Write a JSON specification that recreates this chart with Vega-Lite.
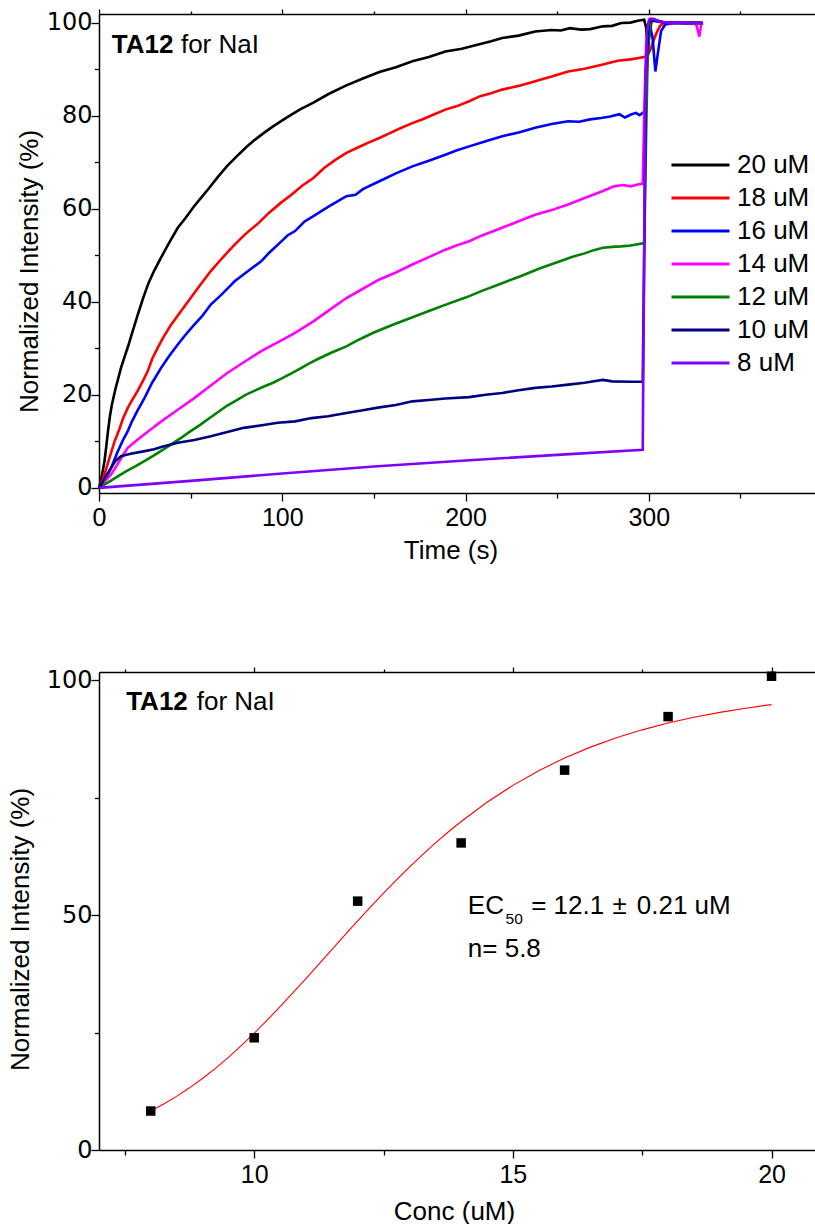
{
  "$schema": "https://vega.github.io/schema/vega-lite/v6.json",
  "background": "white",
  "padding": {"left": 7, "top": 8, "right": 0, "bottom": 0},
  "config": {
    "font": "Liberation Sans",
    "view": {"stroke": null},
    "axis": {"grid": false, "domainColor": "black", "domainWidth": 1.5, "tickColor": "black", "tickWidth": 1.3, "labelColor": "black", "titleColor": "black", "labelFont": "Liberation Sans", "titleFont": "Liberation Sans", "labelFontSize": 25, "titleFontSize": 26, "titleFontWeight": "normal", "labelFlush": false, "labelOverlap": false}
  },
  "datasets": {
    "kinetics": [
      {"s":"20 uM","t":0,"v":0},{"s":"20 uM","t":1,"v":1.5},{"s":"20 uM","t":2,"v":3.5},{"s":"20 uM","t":3,"v":5.8},{"s":"20 uM","t":4,"v":9},{"s":"20 uM","t":5,"v":12.5},{"s":"20 uM","t":6,"v":15.5},{"s":"20 uM","t":7,"v":17.8},{"s":"20 uM","t":8,"v":19.6},{"s":"20 uM","t":9,"v":21.3},{"s":"20 uM","t":10,"v":22.8},{"s":"20 uM","t":12,"v":25.8},{"s":"20 uM","t":14,"v":28.2},{"s":"20 uM","t":16,"v":30.6},{"s":"20 uM","t":18,"v":33.2},{"s":"20 uM","t":21,"v":37},{"s":"20 uM","t":24,"v":40.7},{"s":"20 uM","t":27,"v":44},{"s":"20 uM","t":30,"v":46.6},{"s":"20 uM","t":34,"v":49.6},{"s":"20 uM","t":38,"v":52.5},{"s":"20 uM","t":43,"v":55.9},{"s":"20 uM","t":47,"v":57.9},{"s":"20 uM","t":52,"v":60.6},{"s":"20 uM","t":56,"v":62.5},{"s":"20 uM","t":60,"v":64.4},{"s":"20 uM","t":65,"v":66.9},{"s":"20 uM","t":70,"v":69.2},{"s":"20 uM","t":75,"v":71.2},{"s":"20 uM","t":80,"v":73.1},{"s":"20 uM","t":85,"v":74.8},{"s":"20 uM","t":90,"v":76.3},{"s":"20 uM","t":95,"v":77.7},{"s":"20 uM","t":100,"v":79},{"s":"20 uM","t":105,"v":80.2},{"s":"20 uM","t":110,"v":81.4},{"s":"20 uM","t":117,"v":82.8},{"s":"20 uM","t":125,"v":84.6},{"s":"20 uM","t":135,"v":86.5},{"s":"20 uM","t":144,"v":88},{"s":"20 uM","t":153,"v":89.4},{"s":"20 uM","t":162,"v":90.4},{"s":"20 uM","t":171,"v":91.7},{"s":"20 uM","t":180,"v":92.6},{"s":"20 uM","t":189,"v":93.8},{"s":"20 uM","t":198,"v":94.4},{"s":"20 uM","t":207,"v":95.3},{"s":"20 uM","t":214,"v":96},{"s":"20 uM","t":220,"v":96.7},{"s":"20 uM","t":229,"v":97.2},{"s":"20 uM","t":238,"v":98.1},{"s":"20 uM","t":247,"v":98.4},{"s":"20 uM","t":252,"v":98.3},{"s":"20 uM","t":257,"v":98.8},{"s":"20 uM","t":263,"v":98.5},{"s":"20 uM","t":268,"v":98.6},{"s":"20 uM","t":275,"v":99.2},{"s":"20 uM","t":280,"v":99.3},{"s":"20 uM","t":285,"v":99.9},{"s":"20 uM","t":290,"v":100},{"s":"20 uM","t":294,"v":100.4},{"s":"20 uM","t":297.5,"v":100.6},{"s":"20 uM","t":298.5,"v":99},{"s":"20 uM","t":299.5,"v":94.5},{"s":"20 uM","t":300.5,"v":98},{"s":"20 uM","t":301.5,"v":100.3},{"s":"20 uM","t":303,"v":100.7},{"s":"20 uM","t":306,"v":100.3},{"s":"20 uM","t":310,"v":99.8},{"s":"20 uM","t":315,"v":99.9},{"s":"20 uM","t":320,"v":99.9},{"s":"20 uM","t":325,"v":100},{"s":"20 uM","t":329.5,"v":99.9},
      {"s":"18 uM","t":0,"v":0},{"s":"18 uM","t":2,"v":1.8},{"s":"18 uM","t":4,"v":4.2},{"s":"18 uM","t":6,"v":6.8},{"s":"18 uM","t":8.5,"v":10},{"s":"18 uM","t":11,"v":12.5},{"s":"18 uM","t":13,"v":14.8},{"s":"18 uM","t":15.7,"v":17.2},{"s":"18 uM","t":18,"v":18.8},{"s":"18 uM","t":21,"v":20.8},{"s":"18 uM","t":24,"v":23},{"s":"18 uM","t":26.6,"v":25.1},{"s":"18 uM","t":29,"v":27.7},{"s":"18 uM","t":32,"v":30.1},{"s":"18 uM","t":35,"v":32.3},{"s":"18 uM","t":39.4,"v":35.1},{"s":"18 uM","t":44,"v":37.6},{"s":"18 uM","t":50,"v":40.8},{"s":"18 uM","t":55,"v":43.5},{"s":"18 uM","t":61,"v":46.6},{"s":"18 uM","t":67,"v":49.3},{"s":"18 uM","t":74,"v":52.3},{"s":"18 uM","t":80,"v":54.6},{"s":"18 uM","t":87,"v":56.9},{"s":"18 uM","t":93,"v":59.2},{"s":"18 uM","t":99,"v":61.2},{"s":"18 uM","t":105,"v":63},{"s":"18 uM","t":111,"v":65},{"s":"18 uM","t":117,"v":66.6},{"s":"18 uM","t":123,"v":68.8},{"s":"18 uM","t":129,"v":70.5},{"s":"18 uM","t":135,"v":72},{"s":"18 uM","t":141,"v":73.1},{"s":"18 uM","t":147,"v":74.2},{"s":"18 uM","t":153,"v":75.2},{"s":"18 uM","t":159,"v":76.3},{"s":"18 uM","t":165,"v":77.4},{"s":"18 uM","t":171,"v":78.4},{"s":"18 uM","t":177,"v":79.3},{"s":"18 uM","t":183,"v":80.3},{"s":"18 uM","t":189,"v":81.3},{"s":"18 uM","t":195,"v":82},{"s":"18 uM","t":202,"v":83.1},{"s":"18 uM","t":208,"v":84.2},{"s":"18 uM","t":214,"v":84.8},{"s":"18 uM","t":220,"v":85.6},{"s":"18 uM","t":229,"v":86.4},{"s":"18 uM","t":238,"v":87.4},{"s":"18 uM","t":247,"v":88.4},{"s":"18 uM","t":256,"v":89.5},{"s":"18 uM","t":265,"v":90.1},{"s":"18 uM","t":275,"v":91},{"s":"18 uM","t":283,"v":91.8},{"s":"18 uM","t":290,"v":92.1},{"s":"18 uM","t":297.6,"v":92.6},{"s":"18 uM","t":299.5,"v":93},{"s":"18 uM","t":301,"v":94.3},{"s":"18 uM","t":302.5,"v":96},{"s":"18 uM","t":304,"v":97.6},{"s":"18 uM","t":306,"v":99.2},{"s":"18 uM","t":308,"v":99.9},{"s":"18 uM","t":312,"v":100.1},{"s":"18 uM","t":320,"v":99.9},{"s":"18 uM","t":329.5,"v":99.9},
      {"s":"16 uM","t":0,"v":0},{"s":"16 uM","t":3,"v":1.5},{"s":"16 uM","t":6.6,"v":4.3},{"s":"16 uM","t":10,"v":7.6},{"s":"16 uM","t":13,"v":10.2},{"s":"16 uM","t":15.7,"v":12.2},{"s":"16 uM","t":18,"v":14.3},{"s":"16 uM","t":21,"v":16.6},{"s":"16 uM","t":24.8,"v":19.3},{"s":"16 uM","t":29,"v":22.6},{"s":"16 uM","t":33.9,"v":25.8},{"s":"16 uM","t":38,"v":28.2},{"s":"16 uM","t":43,"v":30.8},{"s":"16 uM","t":47,"v":32.8},{"s":"16 uM","t":52,"v":35.1},{"s":"16 uM","t":56,"v":36.8},{"s":"16 uM","t":61,"v":39.4},{"s":"16 uM","t":67,"v":41.6},{"s":"16 uM","t":74,"v":44.4},{"s":"16 uM","t":81,"v":46.5},{"s":"16 uM","t":88.5,"v":48.7},{"s":"16 uM","t":93,"v":50.6},{"s":"16 uM","t":98.5,"v":52.6},{"s":"16 uM","t":103,"v":54.3},{"s":"16 uM","t":107,"v":55.2},{"s":"16 uM","t":112,"v":57.2},{"s":"16 uM","t":117,"v":58.4},{"s":"16 uM","t":125,"v":60.4},{"s":"16 uM","t":135,"v":62.7},{"s":"16 uM","t":140,"v":63},{"s":"16 uM","t":144,"v":64.2},{"s":"16 uM","t":153,"v":65.9},{"s":"16 uM","t":162,"v":67.6},{"s":"16 uM","t":171,"v":69.1},{"s":"16 uM","t":180,"v":70.3},{"s":"16 uM","t":189,"v":71.6},{"s":"16 uM","t":195,"v":72.5},{"s":"16 uM","t":202,"v":73.4},{"s":"16 uM","t":211,"v":74.5},{"s":"16 uM","t":220,"v":75.6},{"s":"16 uM","t":229,"v":76.4},{"s":"16 uM","t":238,"v":77.4},{"s":"16 uM","t":247,"v":78.2},{"s":"16 uM","t":256,"v":78.8},{"s":"16 uM","t":262,"v":78.7},{"s":"16 uM","t":268,"v":79.2},{"s":"16 uM","t":274,"v":79.5},{"s":"16 uM","t":279,"v":79.8},{"s":"16 uM","t":284,"v":80.3},{"s":"16 uM","t":287,"v":79.6},{"s":"16 uM","t":290,"v":80.2},{"s":"16 uM","t":293,"v":80.6},{"s":"16 uM","t":295,"v":80.1},{"s":"16 uM","t":297.6,"v":80.9},{"s":"16 uM","t":299,"v":90},{"s":"16 uM","t":300.5,"v":99.5},{"s":"16 uM","t":302,"v":97},{"s":"16 uM","t":303.6,"v":89.5},{"s":"16 uM","t":305,"v":93.5},{"s":"16 uM","t":306.7,"v":98.2},{"s":"16 uM","t":309,"v":99.6},{"s":"16 uM","t":314,"v":99.9},{"s":"16 uM","t":320,"v":99.8},{"s":"16 uM","t":329.5,"v":99.9},
      {"s":"14 uM","t":0,"v":0},{"s":"14 uM","t":3,"v":1.3},{"s":"14 uM","t":6.6,"v":2.9},{"s":"14 uM","t":10,"v":5},{"s":"14 uM","t":13,"v":7},{"s":"14 uM","t":15.7,"v":8.6},{"s":"14 uM","t":20,"v":10},{"s":"14 uM","t":25,"v":11.6},{"s":"14 uM","t":30,"v":13.1},{"s":"14 uM","t":34,"v":14.3},{"s":"14 uM","t":43,"v":16.8},{"s":"14 uM","t":52,"v":19.3},{"s":"14 uM","t":61,"v":22},{"s":"14 uM","t":70,"v":24.7},{"s":"14 uM","t":79,"v":27},{"s":"14 uM","t":88.5,"v":29.4},{"s":"14 uM","t":98.5,"v":31.5},{"s":"14 uM","t":107,"v":33.3},{"s":"14 uM","t":117,"v":35.8},{"s":"14 uM","t":126,"v":38.3},{"s":"14 uM","t":135,"v":40.8},{"s":"14 uM","t":144,"v":42.8},{"s":"14 uM","t":153,"v":44.8},{"s":"14 uM","t":162,"v":46.3},{"s":"14 uM","t":171,"v":48},{"s":"14 uM","t":180,"v":49.6},{"s":"14 uM","t":189,"v":51.2},{"s":"14 uM","t":195,"v":52.1},{"s":"14 uM","t":202,"v":53},{"s":"14 uM","t":208,"v":54.1},{"s":"14 uM","t":220,"v":55.9},{"s":"14 uM","t":229,"v":57.3},{"s":"14 uM","t":238,"v":58.7},{"s":"14 uM","t":247,"v":59.7},{"s":"14 uM","t":256,"v":60.9},{"s":"14 uM","t":265,"v":62.3},{"s":"14 uM","t":275,"v":63.8},{"s":"14 uM","t":281,"v":64.8},{"s":"14 uM","t":286,"v":65.1},{"s":"14 uM","t":290,"v":64.8},{"s":"14 uM","t":294,"v":65.2},{"s":"14 uM","t":296.7,"v":65.4},{"s":"14 uM","t":297.5,"v":80},{"s":"14 uM","t":298.5,"v":95},{"s":"14 uM","t":300,"v":100.4},{"s":"14 uM","t":302,"v":100.7},{"s":"14 uM","t":305,"v":100.3},{"s":"14 uM","t":310,"v":99.9},{"s":"14 uM","t":318,"v":99.9},{"s":"14 uM","t":324,"v":99.9},{"s":"14 uM","t":326,"v":99.5},{"s":"14 uM","t":327.6,"v":97},{"s":"14 uM","t":328.5,"v":99.5},{"s":"14 uM","t":329.5,"v":99.9},
      {"s":"12 uM","t":0,"v":0},{"s":"12 uM","t":5,"v":1.2},{"s":"12 uM","t":10,"v":2.4},{"s":"12 uM","t":15,"v":3.6},{"s":"12 uM","t":20,"v":4.7},{"s":"12 uM","t":25,"v":5.8},{"s":"12 uM","t":30,"v":7},{"s":"12 uM","t":35,"v":8.2},{"s":"12 uM","t":40,"v":9.5},{"s":"12 uM","t":45,"v":10.8},{"s":"12 uM","t":50,"v":12.2},{"s":"12 uM","t":55,"v":13.5},{"s":"12 uM","t":60,"v":14.9},{"s":"12 uM","t":65,"v":16.3},{"s":"12 uM","t":70,"v":17.7},{"s":"12 uM","t":75,"v":18.8},{"s":"12 uM","t":80,"v":20},{"s":"12 uM","t":85,"v":20.9},{"s":"12 uM","t":90,"v":21.8},{"s":"12 uM","t":95,"v":22.6},{"s":"12 uM","t":100,"v":23.6},{"s":"12 uM","t":105,"v":24.6},{"s":"12 uM","t":110,"v":25.7},{"s":"12 uM","t":115,"v":26.8},{"s":"12 uM","t":120,"v":27.8},{"s":"12 uM","t":127,"v":29.1},{"s":"12 uM","t":135,"v":30.4},{"s":"12 uM","t":142,"v":31.9},{"s":"12 uM","t":150,"v":33.4},{"s":"12 uM","t":160,"v":35},{"s":"12 uM","t":170,"v":36.5},{"s":"12 uM","t":180,"v":38},{"s":"12 uM","t":190,"v":39.5},{"s":"12 uM","t":200,"v":40.9},{"s":"12 uM","t":210,"v":42.5},{"s":"12 uM","t":220,"v":44},{"s":"12 uM","t":230,"v":45.5},{"s":"12 uM","t":240,"v":47.1},{"s":"12 uM","t":250,"v":48.5},{"s":"12 uM","t":258,"v":49.6},{"s":"12 uM","t":265,"v":50.4},{"s":"12 uM","t":270,"v":51.1},{"s":"12 uM","t":275,"v":51.6},{"s":"12 uM","t":280,"v":51.8},{"s":"12 uM","t":285,"v":51.9},{"s":"12 uM","t":290,"v":52.1},{"s":"12 uM","t":297.6,"v":52.6},{"s":"12 uM","t":298.5,"v":75},{"s":"12 uM","t":299.5,"v":95},{"s":"12 uM","t":301,"v":100.3},{"s":"12 uM","t":304,"v":100.4},{"s":"12 uM","t":308,"v":100},{"s":"12 uM","t":315,"v":99.9},{"s":"12 uM","t":329.5,"v":99.9},
      {"s":"10 uM","t":0,"v":0},{"s":"10 uM","t":2,"v":1.3},{"s":"10 uM","t":4,"v":2.7},{"s":"10 uM","t":6.6,"v":4.3},{"s":"10 uM","t":9,"v":5.8},{"s":"10 uM","t":12,"v":6.8},{"s":"10 uM","t":15,"v":7.1},{"s":"10 uM","t":18,"v":7.4},{"s":"10 uM","t":25,"v":7.9},{"s":"10 uM","t":30,"v":8.3},{"s":"10 uM","t":35,"v":8.9},{"s":"10 uM","t":43,"v":9.7},{"s":"10 uM","t":52,"v":10.3},{"s":"10 uM","t":61,"v":11.1},{"s":"10 uM","t":70,"v":12},{"s":"10 uM","t":79,"v":12.9},{"s":"10 uM","t":88,"v":13.4},{"s":"10 uM","t":97.6,"v":14},{"s":"10 uM","t":107,"v":14.3},{"s":"10 uM","t":116,"v":15},{"s":"10 uM","t":125,"v":15.4},{"s":"10 uM","t":135,"v":16.1},{"s":"10 uM","t":144,"v":16.7},{"s":"10 uM","t":153,"v":17.3},{"s":"10 uM","t":162,"v":17.8},{"s":"10 uM","t":171,"v":18.6},{"s":"10 uM","t":180,"v":18.9},{"s":"10 uM","t":189,"v":19.2},{"s":"10 uM","t":202,"v":19.5},{"s":"10 uM","t":211,"v":20},{"s":"10 uM","t":220,"v":20.4},{"s":"10 uM","t":229,"v":21},{"s":"10 uM","t":238,"v":21.5},{"s":"10 uM","t":247,"v":21.8},{"s":"10 uM","t":256,"v":22.2},{"s":"10 uM","t":265,"v":22.6},{"s":"10 uM","t":270,"v":22.9},{"s":"10 uM","t":275,"v":23.2},{"s":"10 uM","t":280,"v":22.9},{"s":"10 uM","t":290,"v":22.8},{"s":"10 uM","t":296.7,"v":22.8},{"s":"10 uM","t":297.5,"v":50},{"s":"10 uM","t":298.5,"v":90},{"s":"10 uM","t":300,"v":100},{"s":"10 uM","t":302,"v":100.5},{"s":"10 uM","t":305,"v":100.2},{"s":"10 uM","t":310,"v":100},{"s":"10 uM","t":329.5,"v":99.9},
      {"s":"8 uM","t":0,"v":0},{"s":"8 uM","t":50,"v":1.5},{"s":"8 uM","t":100,"v":3.1},{"s":"8 uM","t":150,"v":4.6},{"s":"8 uM","t":200,"v":5.9},{"s":"8 uM","t":250,"v":7.1},{"s":"8 uM","t":296.7,"v":8.2},{"s":"8 uM","t":297.3,"v":40},{"s":"8 uM","t":298,"v":80},{"s":"8 uM","t":299,"v":98},{"s":"8 uM","t":300.5,"v":100.8},{"s":"8 uM","t":302.5,"v":100.8},{"s":"8 uM","t":305,"v":100.3},{"s":"8 uM","t":310,"v":100},{"s":"8 uM","t":320,"v":100},{"s":"8 uM","t":329.5,"v":99.9}
    ],
    "points": [
      {"c":8,"v":8.3},{"c":10,"v":23.9},{"c":12,"v":53},{"c":14,"v":65.4},{"c":16,"v":80.9},{"c":18,"v":92.3},{"c":20,"v":100.9}
    ],
    "fit": [
      {"c":8,"v":8.32},{"c":8.25,"v":9.79},{"c":8.5,"v":11.42},{"c":8.75,"v":13.24},{"c":9,"v":15.23},{"c":9.25,"v":17.39},{"c":9.5,"v":19.73},{"c":9.75,"v":22.23},{"c":10,"v":24.87},{"c":10.25,"v":27.64},{"c":10.5,"v":30.52},{"c":10.75,"v":33.49},{"c":11,"v":36.52},{"c":11.25,"v":39.59},{"c":11.5,"v":42.68},{"c":11.75,"v":45.75},{"c":12,"v":48.8},{"c":12.25,"v":51.79},{"c":12.5,"v":54.7},{"c":12.75,"v":57.53},{"c":13,"v":60.26},{"c":13.25,"v":62.87},{"c":13.5,"v":65.36},{"c":13.75,"v":67.73},{"c":14,"v":69.97},{"c":14.5,"v":74.07},{"c":15,"v":77.66},{"c":15.5,"v":80.79},{"c":16,"v":83.49},{"c":16.5,"v":85.8},{"c":17,"v":87.78},{"c":17.5,"v":89.48},{"c":18,"v":90.92},{"c":18.5,"v":92.15},{"c":19,"v":93.2},{"c":19.5,"v":94.09},{"c":20,"v":94.86}
    ],
    "topBold": [{"x":40.6,"y":93.4,"text":"TA12"}],
    "topPlain": [{"x":44.7,"y":93.4,"text":"for NaI"}],
    "botBold": [{"x":8.717,"y":93.7,"text":"TA12"}],
    "botPlain": [{"x":8.89,"y":93.7,"text":"for NaI"}],
    "ecMain": [{"x":14.129,"y":50.2,"text":"EC"},{"x":15.354,"y":50.2,"text":"= 12.1"},{"x":16.926,"y":50.2,"text":"±"},{"x":17.395,"y":50.2,"text":"0.21 uM"},{"x":14.129,"y":41.2,"text":"n= 5.8"}],
    "ecSub": [{"x":14.858,"y":48.2,"text":"50"}]
  },
  "spacing": 179,
  "bounds": "flush",
  "vconcat": [
    {
      "width": 716,
      "height": 479,
      "layer": [
        {
          "data": {"name": "kinetics"},
          "mark": {"type": "line", "strokeWidth": 2.6},
          "encoding": {
            "x": {"field": "t", "type": "quantitative", "scale": {"domain": [0, 390.7], "nice": false, "zero": false},
              "axis": {"orient": "bottom", "title": "Time (s)", "values": [0, 50, 100, 150, 200, 250, 300, 350],
                "labelExpr": "datum.value % 100 === 0 ? datum.label : ''",
                "tickSize": {"condition": {"test": "datum.value % 100 === 0", "value": 8}, "value": 5},
                "labelPadding": 4, "titleX": 351.5, "titleY": 65, "titleBaseline": "alphabetic", "titleAlign": "center"}},
            "y": {"field": "v", "type": "quantitative", "scale": {"domain": [-1.1, 101.85], "nice": false, "zero": false},
              "axis": {"orient": "left", "title": "Normalized Intensity (%)", "values": [0, 10, 20, 30, 40, 50, 60, 70, 80, 90, 100],
                "labelExpr": "datum.value % 20 === 0 ? datum.label : ''",
                "labelFont": "DejaVu Sans", "labelFontSize": 24,
                "tickSize": {"condition": {"test": "datum.value % 20 === 0", "value": 8}, "value": 4.5},
                "labelPadding": -1, "titleX": -61.5, "titleY": 257, "titleAngle": 270, "titleBaseline": "alphabetic", "titleAlign": "center"}},
            "color": {"field": "s", "type": "nominal",
              "scale": {"domain": ["20 uM", "18 uM", "16 uM", "14 uM", "12 uM", "10 uM", "8 uM"], "range": ["#000000", "#FF0000", "#0000FF", "#FF00FF", "#008000", "#000080", "#8000FF"]},
              "legend": {"title": null, "orient": "none", "legendX": 571, "legendY": 134.5, "clipHeight": 33, "symbolType": "stroke", "symbolSize": 3364, "symbolStrokeWidth": 3, "labelFontSize": 26, "labelFont": "Liberation Sans", "labelColor": "black", "labelOffset": 6, "rowPadding": 0, "padding": 0, "labelLimit": 300}}
          }
        },
        {
          "data": {"name": "topBold"},
          "mark": {"type": "text", "fontWeight": "bold", "fontSize": 26, "align": "right", "baseline": "alphabetic", "color": "black"},
          "encoding": {
            "x": {"field": "x", "type": "quantitative", "scale": {"domain": [0, 390.7], "nice": false, "zero": false},
              "axis": {"orient": "top", "title": null, "labels": false, "values": [0, 50, 100, 150, 200, 250, 300, 350],
                "tickSize": {"condition": {"test": "datum.value % 100 === 0", "value": 5}, "value": 3}}},
            "y": {"field": "y", "type": "quantitative", "scale": {"domain": [-1.1, 101.85], "nice": false, "zero": false}, "axis": null},
            "text": {"field": "text"}
          }
        },
        {
          "data": {"name": "topPlain"},
          "mark": {"type": "text", "fontSize": 26, "align": "left", "baseline": "alphabetic", "color": "black"},
          "encoding": {
            "x": {"field": "x", "type": "quantitative", "scale": {"domain": [0, 390.7], "nice": false, "zero": false}, "axis": null},
            "y": {"field": "y", "type": "quantitative", "scale": {"domain": [-1.1, 101.85], "nice": false, "zero": false}, "axis": null},
            "text": {"field": "text"}
          }
        }
      ],
      "resolve": {"axis": {"x": "independent", "y": "independent"}}
    },
    {
      "width": 716,
      "height": 478,
      "layer": [
        {
          "data": {"name": "fit"},
          "mark": {"type": "line", "color": "#FF0000", "strokeWidth": 1.1},
          "encoding": {
            "x": {"field": "c", "type": "quantitative", "scale": {"domain": [7, 20.84], "nice": false, "zero": false},
              "axis": {"orient": "bottom", "title": "Conc (uM)", "values": [7.5, 10, 12.5, 15, 17.5, 20],
                "labelExpr": "datum.value % 5 === 0 ? datum.label : ''",
                "tickSize": {"condition": {"test": "datum.value % 5 === 0", "value": 8}, "value": 5},
                "labelPadding": 4, "titleX": 355, "titleY": 69, "titleBaseline": "alphabetic", "titleAlign": "center"}},
            "y": {"field": "v", "type": "quantitative", "scale": {"domain": [0, 101.8], "nice": false, "zero": false},
              "axis": {"orient": "left", "title": "Normalized Intensity (%)", "values": [0, 25, 50, 75, 100],
                "labelExpr": "datum.value % 50 === 0 ? datum.label : ''",
                "labelFont": "DejaVu Sans", "labelFontSize": 24,
                "tickSize": {"condition": {"test": "datum.value % 50 === 0", "value": 8}, "value": 4.5},
                "labelPadding": -1, "titleX": -70.7, "titleY": 257, "titleAngle": 270, "titleBaseline": "alphabetic", "titleAlign": "center"}}
          }
        },
        {
          "data": {"name": "points"},
          "mark": {"type": "point", "shape": "square", "filled": true, "size": 90, "color": "black", "opacity": 1},
          "encoding": {
            "x": {"field": "c", "type": "quantitative", "scale": {"domain": [7, 20.84], "nice": false, "zero": false},
              "axis": {"orient": "top", "title": null, "labels": false, "values": [7.5, 10, 12.5, 15, 17.5, 20],
                "tickSize": {"condition": {"test": "datum.value % 5 === 0", "value": 5}, "value": 3}}},
            "y": {"field": "v", "type": "quantitative", "scale": {"domain": [0, 101.8], "nice": false, "zero": false}, "axis": null}
          }
        },
        {
          "data": {"name": "botBold"},
          "mark": {"type": "text", "fontWeight": "bold", "fontSize": 26, "align": "right", "baseline": "alphabetic", "color": "black"},
          "encoding": {
            "x": {"field": "x", "type": "quantitative", "scale": {"domain": [7, 20.84], "nice": false, "zero": false}, "axis": null},
            "y": {"field": "y", "type": "quantitative", "scale": {"domain": [0, 101.8], "nice": false, "zero": false}, "axis": null},
            "text": {"field": "text"}
          }
        },
        {
          "data": {"name": "botPlain"},
          "mark": {"type": "text", "fontSize": 26, "align": "left", "baseline": "alphabetic", "color": "black"},
          "encoding": {
            "x": {"field": "x", "type": "quantitative", "scale": {"domain": [7, 20.84], "nice": false, "zero": false}, "axis": null},
            "y": {"field": "y", "type": "quantitative", "scale": {"domain": [0, 101.8], "nice": false, "zero": false}, "axis": null},
            "text": {"field": "text"}
          }
        },
        {
          "data": {"name": "ecMain"},
          "mark": {"type": "text", "fontSize": 26, "align": "left", "baseline": "alphabetic", "color": "black"},
          "encoding": {
            "x": {"field": "x", "type": "quantitative", "scale": {"domain": [7, 20.84], "nice": false, "zero": false}, "axis": null},
            "y": {"field": "y", "type": "quantitative", "scale": {"domain": [0, 101.8], "nice": false, "zero": false}, "axis": null},
            "text": {"field": "text"}
          }
        },
        {
          "data": {"name": "ecSub"},
          "mark": {"type": "text", "fontSize": 15.5, "align": "left", "baseline": "alphabetic", "color": "black"},
          "encoding": {
            "x": {"field": "x", "type": "quantitative", "scale": {"domain": [7, 20.84], "nice": false, "zero": false}, "axis": null},
            "y": {"field": "y", "type": "quantitative", "scale": {"domain": [0, 101.8], "nice": false, "zero": false}, "axis": null},
            "text": {"field": "text"}
          }
        }
      ],
      "resolve": {"axis": {"x": "independent", "y": "independent"}}
    }
  ]
}
